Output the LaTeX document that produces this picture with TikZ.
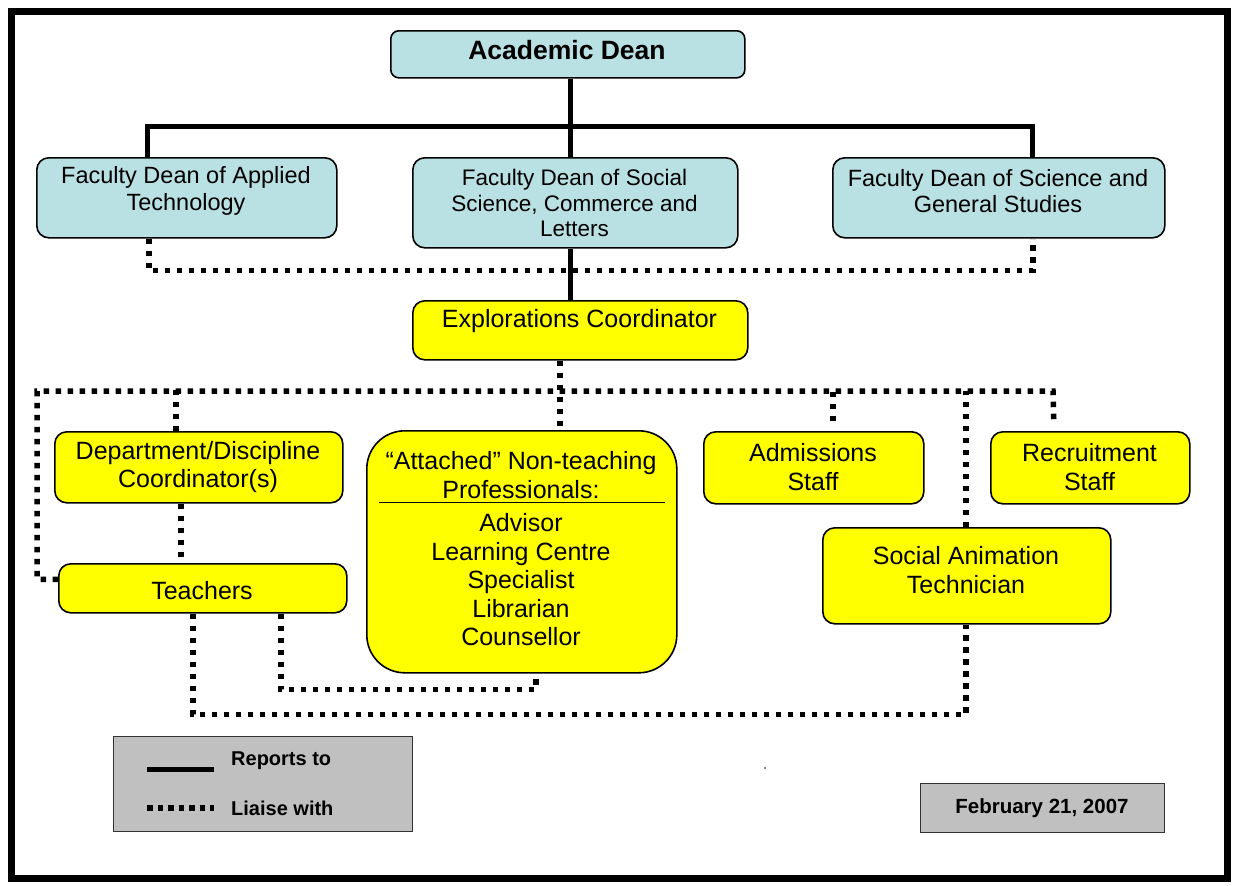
\documentclass[tikz,border=0pt]{standalone}
\usepackage{fontspec}
\setmainfont{Liberation Sans}
\usetikzlibrary{calc}
\definecolor{dblue}{RGB}{185,224,226}
\definecolor{lgray}{RGB}{192,192,192}
\definecolor{byellow}{RGB}{255,255,0}
\begin{document}
\begin{tikzpicture}[x=1pt,y=-1pt,
 box/.style={draw=black,line width=1.6pt,rounded corners=12pt,anchor=north west,inner sep=0pt},
 bluebox/.style={box,fill=dblue},
 ybox/.style={box,fill=byellow},
 graybox/.style={draw=black!80,line width=1.4pt,fill=lgray,anchor=north west,inner sep=0pt},
 txt/.style={align=center,font=\fontsize{25}{28.5}\selectfont,inner sep=0pt},
 ftxt/.style={align=center,font=\fontsize{23.5}{26.5}\selectfont,inner sep=0pt},
 stxt/.style={align=center,font=\fontsize{22.5}{25.5}\selectfont,inner sep=0pt},
 ltxt/.style={anchor=west,font=\fontsize{20}{22}\selectfont\bfseries,inner sep=0pt},
 reports/.style={line width=5pt},
 liaise/.style={line width=5.5pt,dash pattern=on 5.5pt off 6.5pt},
]
\useasboundingbox (0,0) rectangle (1234,886);
\fill[white] (0,0) rectangle (1234,886);
\draw[line width=7pt] (11,11) rectangle (1227,878);

% boxes
\node[bluebox,rounded corners=8pt,minimum width=354pt,minimum height=47pt] (ad) at (390,30) {};
\node[bluebox,minimum width=300pt,minimum height=80pt] (fda) at (36,157) {};
\node[bluebox,minimum width=325pt,minimum height=90pt] (fdss) at (412,157) {};
\node[bluebox,minimum width=332pt,minimum height=80pt] (fdsc) at (832,157) {};
\node[ybox,minimum width=335pt,minimum height=59pt] (ec) at (412,300) {};
\node[ybox,minimum width=288pt,minimum height=71pt] (dept) at (54,431) {};
\node[ybox,minimum width=288pt,minimum height=49pt] (tch) at (58,563) {};
\node[ybox,rounded corners=38pt,minimum width=310pt,minimum height=242pt] (att) at (366,430) {};
\node[ybox,minimum width=220pt,minimum height=72pt] (adm) at (703,431) {};
\node[ybox,minimum width=199pt,minimum height=72pt] (rec) at (990,431) {};
\node[ybox,minimum width=288pt,minimum height=96pt] (san) at (822,527) {};
\node[graybox,minimum width=299pt,minimum height=95pt] (leg) at (113,736) {};
\node[graybox,minimum width=244pt,minimum height=49pt] (date) at (920,783) {};

% texts
\node[font=\fontsize{26.5}{30}\selectfont\bfseries,inner sep=0pt] (ad-t) at (567,50) {Academic Dean};
\node[ftxt] (fda-t) at (186,191) {Faculty Dean of Applied\\Technology};
\node[stxt] (fdss-t) at (574.5,203) {Faculty Dean of Social\\Science, Commerce and\\Letters};
\node[ftxt] (fdsc-t) at (998,191) {Faculty Dean of Science and\\General Studies};
\node[txt] (ec-t) at (579.5,321) {Explorations Coordinator};
\node[txt] (dept-t) at (198,467) {Department/Discipline\\Coordinator(s)};
\node[txt] (tch-t) at (202,591) {Teachers};
\node[txt] (att-h) at (521,475) {“Attached” Non-teaching\\Professionals:};
\node[txt] (att-t) at (521,580) {Advisor\\Learning Centre\\Specialist\\Librarian\\Counsellor};
\node[txt] (adm-t) at (813,467) {Admissions\\Staff};
\node[txt] (rec-t) at (1089.5,467) {Recruitment\\Staff};
\node[txt] (san-t) at (966,570) {Social Animation\\Technician};
\node[ltxt] (rep-t) at (231,761) {Reports to};
\node[ltxt] (lia-t) at (231,808) {Liaise with};
\node[font=\fontsize{20.5}{22}\selectfont\bfseries,inner sep=0pt] (date-t) at (1042,808) {February 21, 2007};

% header rule in attached box
\draw[line width=1.8pt] ([shift={(13,72.5)}]att.north west) -- ([shift={(-13,72.5)}]att.north east);

% reports-to lines
\draw[reports] ([xshift=3pt]ad.south) -- ([xshift=-4.5pt]fdss.north);
\draw[reports] ([xshift=-39pt]fda.north) -- ++(0,-31) -| ([xshift=34pt]fdsc.north);
\draw[reports] ([xshift=-4.5pt]fdss.south) -- ([xshift=-9.5pt]ec.north);

% liaise lines
\draw[liaise] ([xshift=-38pt]fda.south) -- ++(0,32) -| ([xshift=34pt]fdsc.south);
\coordinate (busL) at (37,391);
\coordinate (busR) at (1053,391);
\draw[liaise] ([yshift=9pt]tch.west) -| (busL) -- (busR) -- ([xshift=-36.5pt,yshift=10pt]rec.north);
\draw[liaise] ([xshift=-20.5pt]ec.south) -- ([xshift=38pt]att.north);
\draw[liaise] ([xshift=-23pt]dept.north) -- ++(0,-46);
\draw[liaise] ([xshift=19pt,yshift=10pt]adm.north) -- ++(0,-30);
\draw[liaise] ([xshift=-1pt]san.north) -- ++(0,-136);
\draw[liaise] ([xshift=-18pt]dept.south) -- ([xshift=-22pt]tch.north);
\draw[liaise] ([xshift=-10pt]tch.south) -- ++(0,101) -| ([xshift=-1pt]san.south);
\draw[liaise] ([xshift=78pt]tch.south) -- ++(0,76) -| ([xshift=14pt]att.south);

% legend samples
\coordinate (ls1) at (147,769);
\coordinate (le1) at (214,769);
\coordinate (ls2) at (147,808);
\coordinate (le2) at (214,808);
\draw[reports] (ls1) -- (le1);
\draw[line width=5.5pt,dash pattern=on 5.5pt off 5pt] (ls2) -- (le2);

\fill (765,768) circle (0.8);
\end{tikzpicture}
\end{document}
